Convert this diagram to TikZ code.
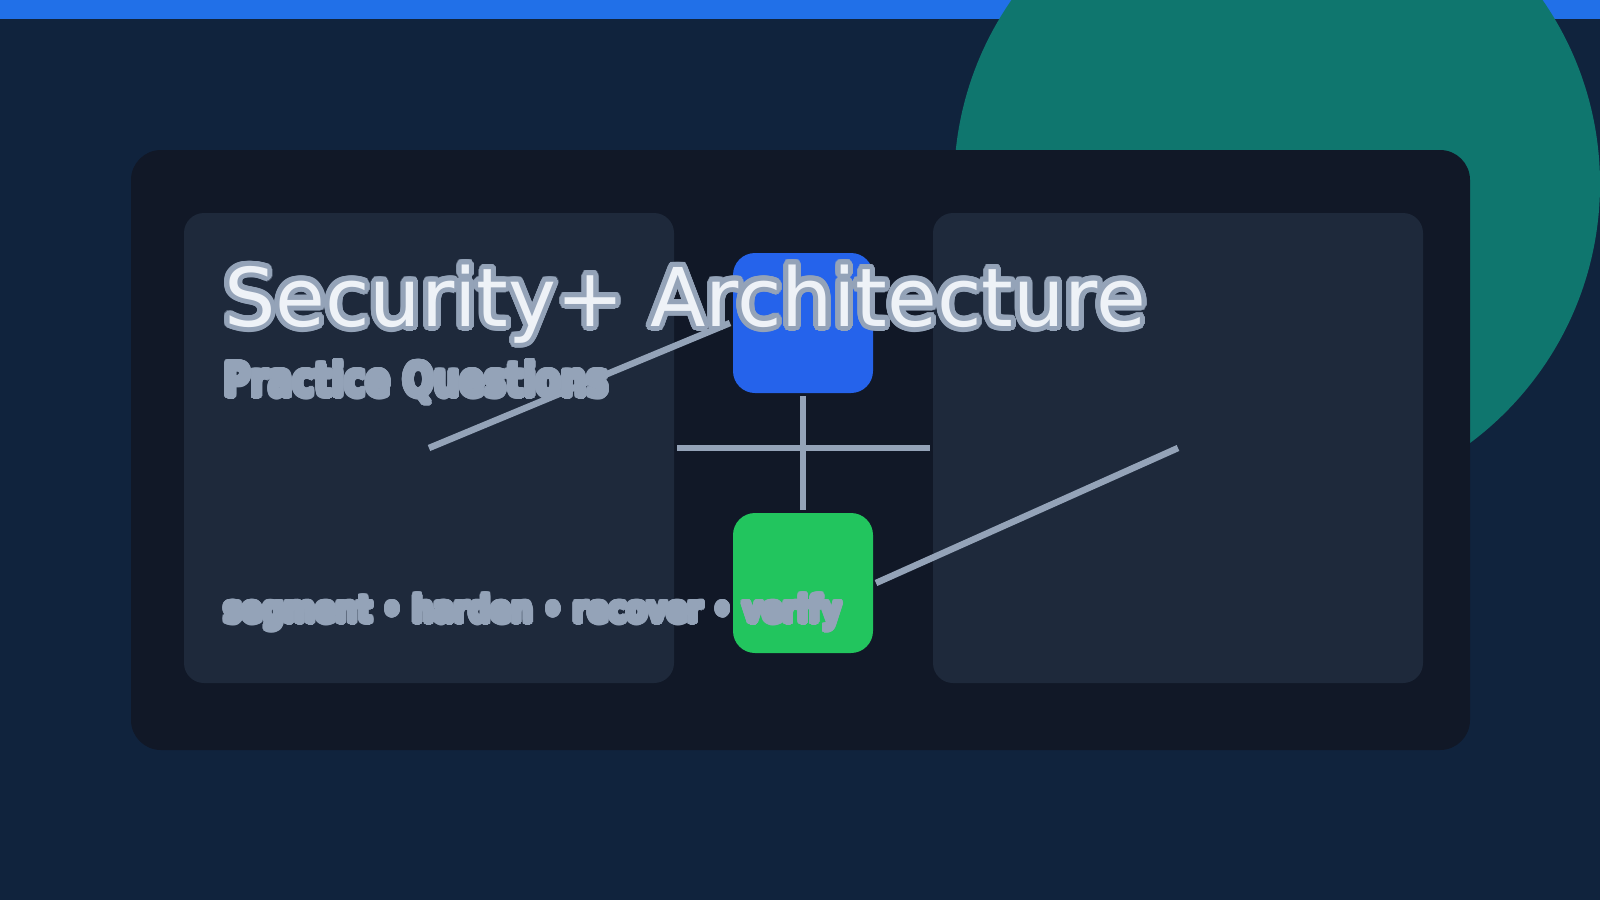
\documentclass[tikz,border=0pt]{standalone}
\usepackage{fontspec}
\setmainfont{DejaVu Sans}
\usepackage{contour}
\usepackage{graphicx}
\usetikzlibrary{positioning, calc}

\definecolor{bgnavy}{HTML}{10233D}
\definecolor{topblue}{HTML}{2170E8}
\definecolor{tealdisc}{HTML}{0F766E}
\definecolor{panel}{HTML}{111827}
\definecolor{card}{HTML}{1E293B}
\definecolor{nodeblue}{HTML}{2563EB}
\definecolor{nodegreen}{HTML}{22C55E}
\definecolor{slate}{HTML}{94A3B8}
\definecolor{paper}{HTML}{EEF2F7}

\begin{document}
\begin{tikzpicture}[x=1pt, y=-1pt, line width=6pt,
    cardbox/.style={fill=card, rounded corners=20pt},
    block/.style={minimum width=140pt, minimum height=140pt, rounded corners=22pt, inner sep=0pt},
    link/.style={draw=slate, line width=6.5pt},
    label/.style={anchor=base west, inner sep=0pt}]
        % Background
        \fill[bgnavy] (0,0) rectangle (1600,900);
        \useasboundingbox (0,0) rectangle (1600,900);
        \fill[topblue] (0,0) rectangle (1600,19);
        \fill[tealdisc] (1277,184) circle (323);

        % Panels
        \fill[panel, rounded corners=30pt] (131,150) rectangle (1470,750);
        \node[cardbox, minimum width=490pt, minimum height=470pt, anchor=north west] (leftcard) at (181,210) {};
        \node[cardbox, minimum width=490pt, minimum height=470pt, anchor=north west] (rightcard) at (930,210) {};

        % Nodes
        \node[block, fill=nodeblue, anchor=north west] (top) at (730,250) {};
        \node[block, fill=nodegreen, anchor=north west] (bottom) at (730,510) {};

        % Edges
        \draw[link] (leftcard.center) -- (top.west);
        \draw[link] (leftcard.east) -- (rightcard.west);
        \draw[link] (top.south) -- (bottom.north);
        \draw[link] (rightcard.center) -- (bottom.east);

        % Texts
        \contournumber{32}
        \contourlength{5pt}
        \node[label, font=\fontsize{81}{92}\selectfont, text=paper] (title) at (221,326) {\contour{slate}{Security+ Architecture}};
        \contourlength{3pt}
        \node[label, font=\bfseries\fontsize{46}{54}\selectfont, text=slate] (subtitle) at (221,396) {\scalebox{0.79}[1]{\contour{slate}{Practice Questions}}};
        \node[label, font=\bfseries\fontsize{36}{44}\selectfont, text=slate] (steps) at (221,622) {\scalebox{0.84}[1]{\contour{slate}{segment • harden • recover • verify}}};
    \end{tikzpicture}
\end{document}
